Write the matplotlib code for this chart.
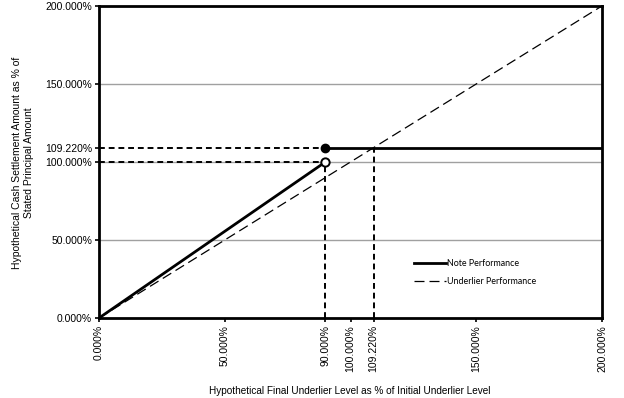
import matplotlib.pyplot as plt

# data (percent)
underlier_x = [0, 200]
underlier_y = [0, 200]
note_up_x = [0, 90]
note_up_y = [0, 100]
note_flat_x = [90, 200]
note_flat_y = [109.22, 109.22]
cap_level = 109.22
trigger = 90
x_ticks = [0, 50, 90, 100, 109.22, 150, 200]
x_tick_labels = ["0.000%", "50.000%", "90.000%", "100.000%", "109.220%", "150.000%", "200.000%"]
y_ticks = [0, 50, 100, 109.22, 150, 200]
y_tick_labels = ["0.000%", "50.000%", "100.000%", "109.220%", "150.000%", "200.000%"]

plt.rcParams["font.family"] = ["Liberation Sans", "DejaVu Sans"]

fig = plt.figure(figsize=(6.24, 3.98), dpi=100)
ax = fig.add_axes([0.1587, 0.201, 0.806, 0.784])

for g in [50, 100, 150]:
    ax.axhline(g, color="#a0a0a0", lw=1.0, zorder=1)

# reference dashed lines
ref = dict(color="black", lw=1.4, ls=(0, (3, 2)), zorder=2)
ax.plot([0, trigger], [cap_level, cap_level], **ref)
ax.plot([0, trigger], [100, 100], **ref)
ax.plot([trigger, trigger], [0, 100], **ref)
ax.plot([cap_level, cap_level], [0, cap_level], **ref)

ax.plot(underlier_x, underlier_y, color="black", lw=0.9, ls=(0, (8, 4)), zorder=3,
        label="Underlier Performance")
ax.plot(note_up_x, note_up_y, color="black", lw=2.0, zorder=4, label="Note Performance")
ax.plot(note_flat_x, note_flat_y, color="black", lw=2.0, zorder=4)
ax.plot([note_flat_x[0]], [note_flat_y[0]], "o", color="black", ms=6, zorder=5)
ax.plot([note_up_x[-1]], [note_up_y[-1]], "o", mfc="white", mec="black", mew=1.4, ms=6, zorder=5)

ax.set_xlim(0, 200)
ax.set_ylim(0, 200)
ax.set_xticks(x_ticks)
ax.set_xticklabels(x_tick_labels, rotation=90, fontsize=7.5)
ax.set_yticks(y_ticks)
ax.set_yticklabels(y_tick_labels, fontsize=7.5)
ax.tick_params(direction="out", length=3, width=1.2, pad=2)
for s in ax.spines.values():
    s.set_linewidth(2.0)

handles, labels = ax.get_legend_handles_labels()
ax.legend(handles[::-1], labels[::-1], loc="lower left", bbox_to_anchor=(0.61, 0.078),
          frameon=False, prop={"family": "Lato", "size": 6.4}, handlelength=3.6,
          handletextpad=0.1, labelspacing=1.0)

fig.text(0.56, 0.005, "Hypothetical Final Underlier Level as % of Initial Underlier Level",
         ha="center", va="bottom", fontsize=7.2)
fig.text(0.037, 0.59, "Hypothetical Cash Settlement Amount as % of\nStated Principal Amount",
         ha="center", va="center", rotation=90, fontsize=7.5)

fig.savefig("out.png", dpi=100)
